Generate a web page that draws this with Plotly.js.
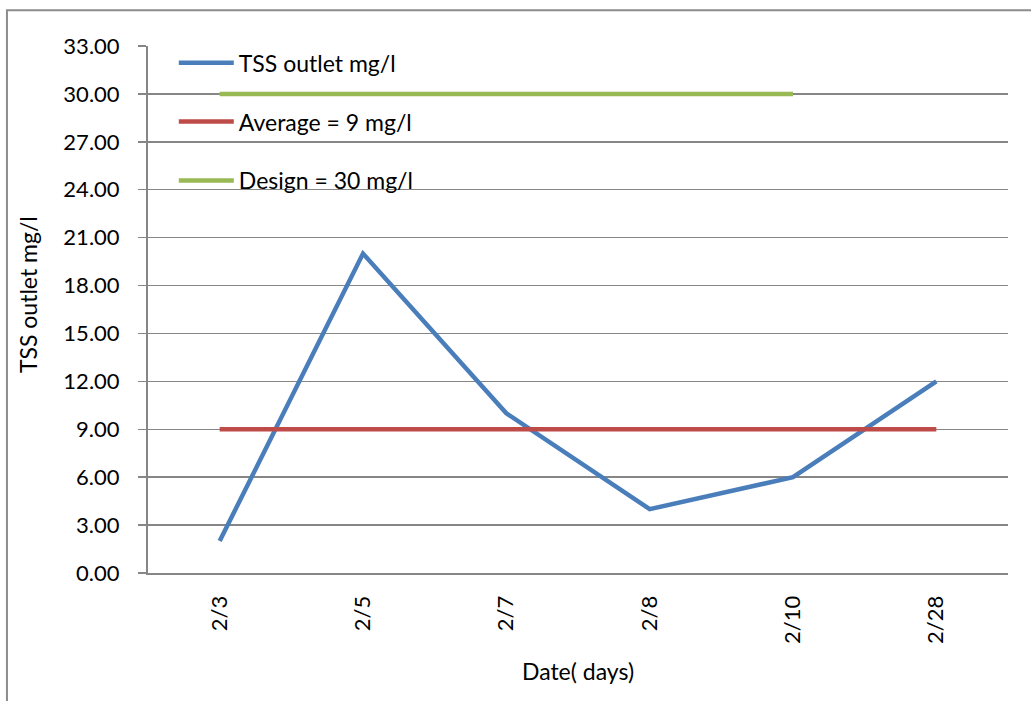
<!DOCTYPE html>
<html>
<head>
<meta charset="utf-8">
<script src="https://cdn.plot.ly/plotly-3.0.1.min.js"></script>
<style>html,body{margin:0;padding:0;background:#fff;}#chart{width:1031px;height:701px;}</style>
</head>
<body>
<div id="chart"></div>
<script>
const dates = ["2/3", "2/5", "2/7", "2/8", "2/10", "2/28"];
const tssOutlet = [2, 20, 10, 4, 6, 12];
const averageValues = [9, 9, 9, 9, 9, 9];
const designDates = ["2/3", "2/5", "2/7", "2/8", "2/10"];
const designValues = [30, 30, 30, 30, 30];
const yTicks = [0, 3, 6, 9, 12, 15, 18, 21, 24, 27, 30, 33];

const FONT = "Lato, Noto Sans, sans-serif";
const traces = [
  {x: dates, y: tssOutlet, type: "scatter", mode: "lines", name: "TSS outlet mg/l",
   line: {color: "#4a7ebb", width: 4.5}, legendgroup: "a"},
  {x: dates, y: averageValues, type: "scatter", mode: "lines", name: "Average = 9 mg/l",
   line: {color: "#be4b48", width: 4.5}, legendgroup: "b"},
  {x: designDates, y: designValues, type: "scatter", mode: "lines", name: "Design = 30 mg/l",
   line: {color: "#98b954", width: 4.5}, legendgroup: "c"}
];

const layout = {
  width: 1031, height: 701,
  margin: {l: 148, r: 23, t: 46, b: 128},
  paper_bgcolor: "#fff", plot_bgcolor: "#fff",
  font: {family: FONT, size: 23, color: "#000"},
  showlegend: true,
  legend: {x: 0.03, y: 1.009, xanchor: "left", yanchor: "top", bgcolor: "rgba(0,0,0,0)",
           tracegroupgap: 26, font: {family: FONT, size: 23, color: "#000"}, itemwidth: 55},
  xaxis: {type: "category", categoryarray: dates, range: [-0.5, 5.5],
          tickangle: -90, showgrid: false, showline: true, linecolor: "#868686", linewidth: 2,
          ticks: "", ticklabelstandoff: 12, zeroline: false, tickfont: {family: FONT, size: 22},
          title: {text: "Date( days)", standoff: 21, font: {family: FONT, size: 23}}},
  yaxis: {range: [0, 33], tickvals: yTicks, tickformat: ".2f", tickfont: {family: FONT, size: 22},
          showgrid: true, gridcolor: "#868686", gridwidth: 1.5,
          showline: true, linecolor: "#868686", linewidth: 2,
          ticks: "outside", ticklen: 8, tickcolor: "#868686", tickwidth: 1.5,
          ticklabelstandoff: 14, zeroline: false},
  annotations: [
    {text: "TSS outlet mg/l", xref: "paper", yref: "paper", x: -0.1395, y: 0.5275,
     xanchor: "center", yanchor: "middle", textangle: -90, showarrow: false,
     font: {family: FONT, size: 23, color: "#000"}}
  ],
  shapes: [
    {type: "rect", xref: "paper", yref: "paper", x0: -0.164, x1: 1.2, y0: -0.5, y1: 1.068,
     line: {color: "#8c8c8c", width: 2}, fillcolor: "rgba(0,0,0,0)", layer: "below"}
  ]
};

Plotly.newPlot("chart", traces, layout, {displayModeBar: false, staticPlot: true});
</script>
</body>
</html>
